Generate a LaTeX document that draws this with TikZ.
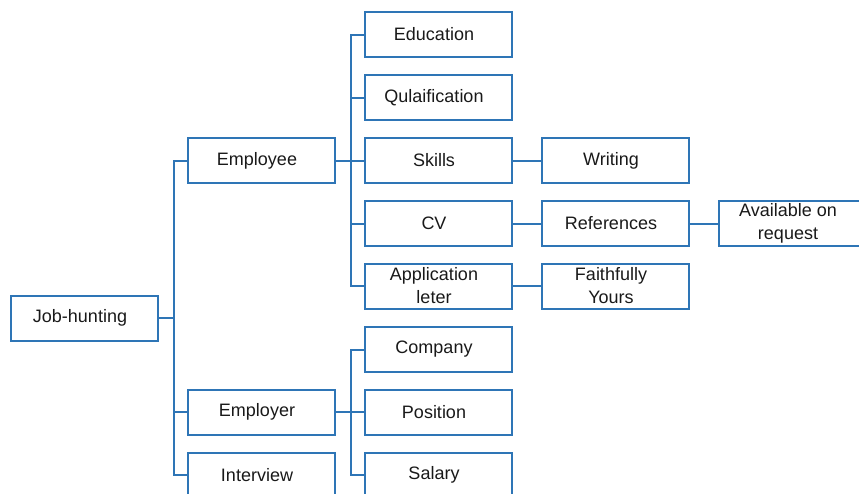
\documentclass[tikz,border=0pt]{standalone}
\usepackage{fontspec}
\setmainfont{Liberation Sans}
\definecolor{lineblue}{RGB}{46,117,182}
\newcommand\chartbox[3]{%
  \node[box] (#1) at #2 {};
  \node[boxtext] (#1t) at (#1) {#3};}
\begin{document}
\begin{tikzpicture}[x=1pt,y=-1pt,
  box/.style={draw=lineblue, line width=2pt, minimum width=147pt, minimum height=45pt,
    inner sep=0pt},
  boxtext/.style={inner sep=0pt, align=center, xshift=-4.5pt,
    font=\fontsize{18}{23}\selectfont, text=black!90},
  link/.style={draw=lineblue, line width=2pt}]
\useasboundingbox (0,0) rectangle (859,493);
\clip (0,0) rectangle (859,493);
% column 1
\chartbox{jh}{(84.5,318)}{Job-hunting}
% column 2
\chartbox{emp}{(261.5,160.5)}{Employee}
\chartbox{empr}{(261.5,412)}{Employer}
\chartbox{int}{(261.5,475)}{Interview}
% column 3
\chartbox{edu}{(438.5,34.5)}{Education}
\chartbox{qual}{(438.5,97.5)}{Qulaification}
\chartbox{sk}{(438.5,160.5)}{Skills}
\chartbox{cv}{(438.5,223.5)}{CV}
\chartbox{app}{(438.5,286)}{Application\\leter}
\chartbox{comp}{(438.5,349.5)}{Company}
\chartbox{pos}{(438.5,412)}{Position}
\chartbox{sal}{(438.5,475)}{Salary}
% column 4
\chartbox{wr}{(615.5,160.5)}{Writing}
\chartbox{ref}{(615.5,223.5)}{References}
\chartbox{ff}{(615.5,286)}{Faithfully\\Yours}
% column 5
\chartbox{avail}{(792.5,223.5)}{Available on\\request}
% connectors
\foreach \c in {emp,empr,int}
  \draw[link] (jh.east) -- ++(15,0) |- (\c.west);
\foreach \c in {edu,qual,sk,cv,app}
  \draw[link] (emp.east) -- ++(15,0) |- (\c.west);
\foreach \c in {comp,pos,sal}
  \draw[link] (empr.east) -- ++(15,0) |- (\c.west);
\draw[link] (sk) -- (wr);
\draw[link] (cv) -- (ref);
\draw[link] (ref) -- (avail);
\draw[link] (app) -- (ff);
\end{tikzpicture}
\end{document}
